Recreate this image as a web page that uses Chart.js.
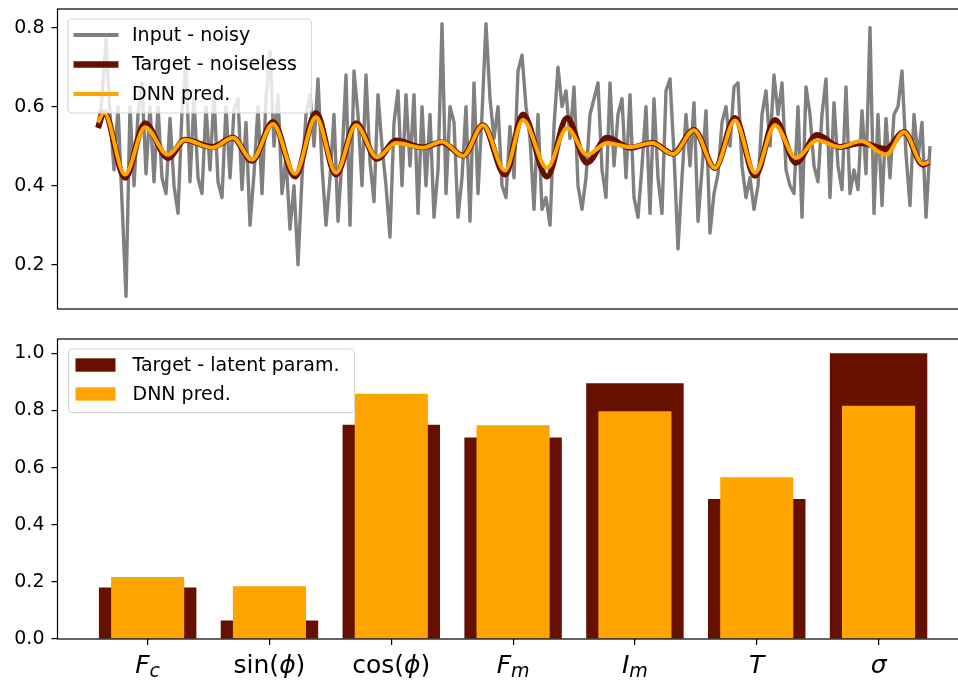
<!DOCTYPE html>
<html lang="en">
<head>
<meta charset="UTF-8">
<title>Noisy signal and latent parameters</title>
<script src="https://cdn.jsdelivr.net/npm/chart.js"></script>
<style>
  html, body {
    margin: 0;
    padding: 0;
    background: #fff;
    width: 958px;
    height: 682px;
    overflow: hidden;
  }
  #top { position: absolute; left: 0; top: 0; }
  #bottom { position: absolute; left: 0; top: 320px; }
</style>
</head>
<body>
<canvas id="top" width="990" height="320"></canvas>
<canvas id="bottom" width="990" height="362"></canvas>

<script>
// noisy input, one value per sample
const noisy = [
  0.55, 0.62, 0.77, 0.58, 0.44, 0.60, 0.36, 0.12, 0.60, 0.40, 0.58, 0.66, 0.43,
  0.60, 0.41, 0.60, 0.42, 0.38, 0.57, 0.40, 0.33, 0.59, 0.71, 0.41, 0.62, 0.42,
  0.38, 0.60, 0.44, 0.63, 0.41, 0.37, 0.60, 0.42, 0.59, 0.62, 0.39, 0.56, 0.30,
  0.43, 0.60, 0.38, 0.62, 0.74, 0.50, 0.63, 0.38, 0.47, 0.29, 0.40, 0.20, 0.42,
  0.58, 0.63, 0.50, 0.67, 0.45, 0.30, 0.42, 0.58, 0.31, 0.47, 0.68, 0.30, 0.69,
  0.58, 0.40, 0.68, 0.46, 0.36, 0.63, 0.50, 0.40, 0.27, 0.56, 0.64, 0.40, 0.63,
  0.45, 0.63, 0.33, 0.60, 0.40, 0.58, 0.32, 0.44, 0.81, 0.38, 0.60, 0.56, 0.32,
  0.42, 0.60, 0.31, 0.66, 0.38, 0.58, 0.81, 0.62, 0.52, 0.60, 0.40, 0.37, 0.55,
  0.42, 0.69, 0.73, 0.60, 0.52, 0.34, 0.58, 0.34, 0.37, 0.30, 0.55, 0.70, 0.60,
  0.64, 0.52, 0.65, 0.40, 0.34, 0.42, 0.58, 0.62, 0.66, 0.44, 0.37, 0.66, 0.45,
  0.58, 0.62, 0.42, 0.63, 0.37, 0.32, 0.45, 0.60, 0.33, 0.62, 0.42, 0.33, 0.64,
  0.67, 0.48, 0.24, 0.42, 0.58, 0.45, 0.61, 0.31, 0.44, 0.59, 0.28, 0.38, 0.43,
  0.56, 0.60, 0.50, 0.65, 0.66, 0.45, 0.37, 0.42, 0.34, 0.40, 0.58, 0.64, 0.50,
  0.68, 0.58, 0.66, 0.44, 0.40, 0.38, 0.60, 0.32, 0.65, 0.58, 0.45, 0.41, 0.58,
  0.67, 0.37, 0.61, 0.45, 0.39, 0.65, 0.38, 0.44, 0.39, 0.59, 0.43, 0.80, 0.33,
  0.58, 0.35, 0.57, 0.42, 0.58, 0.60, 0.69, 0.48, 0.35, 0.58, 0.47, 0.56, 0.32, 0.50
];

// smooth curves, read at their peaks and troughs (x in sample units)
const curveX = [
  0, 1.5, 6.75, 11.75, 17.5, 21.75, 28.5, 33.75, 38.5, 43.75, 49.25, 54.5, 59.5, 64.5,
  69.75, 74.5, 81.25, 86, 91.25, 96.25, 101.75, 106.25, 112.25, 117.25, 122.25, 127.25,
  133, 138.5, 143.75, 149, 154.25, 159.25, 164.25, 169.25, 174.5, 179.75, 185.5, 190.75,
  197, 201.5, 206.25, 207.75
];
const targetY = [
  0.546, 0.586, 0.420, 0.558, 0.470, 0.516, 0.498, 0.521, 0.463, 0.561, 0.423, 0.584, 0.428, 0.558,
  0.468, 0.514, 0.497, 0.510, 0.476, 0.553, 0.428, 0.580, 0.423, 0.571, 0.458, 0.521,
  0.496, 0.508, 0.481, 0.541, 0.445, 0.571, 0.425, 0.566, 0.458, 0.528, 0.498, 0.508,
  0.493, 0.536, 0.453, 0.460
];
const predY = [
  0.560, 0.585, 0.428, 0.548, 0.478, 0.516, 0.496, 0.521, 0.466, 0.556, 0.430, 0.574, 0.433, 0.553,
  0.472, 0.508, 0.496, 0.512, 0.475, 0.553, 0.438, 0.566, 0.445, 0.546, 0.478, 0.508,
  0.498, 0.508, 0.480, 0.540, 0.445, 0.565, 0.433, 0.553, 0.470, 0.515, 0.498, 0.513,
  0.478, 0.536, 0.455, 0.460
];

// latent parameters
const categories = ['F_c', 'sin(ϕ)', 'cos(ϕ)', 'F_m', 'I_m', 'T', 'σ'];
const targetParams = [0.18, 0.065, 0.75, 0.705, 0.895, 0.49, 1.0];
const predParams = [0.217, 0.185, 0.858, 0.748, 0.797, 0.566, 0.816];

const topTicks = [0.2, 0.4, 0.6, 0.8];
const bottomTicks = [0.0, 0.2, 0.4, 0.6, 0.8, 1.0];

const GRAY = '#808080';
const DARK = '#661100';
const ORANGE = '#ffa500';
const FONT = 'DejaVu Sans';

// black box round the axes, like matplotlib spines
const framePlugin = {
  id: 'frame',
  afterDatasetsDraw(chart) {
    const { ctx, chartArea: a } = chart;
    ctx.save();
    ctx.strokeStyle = '#000';
    ctx.lineWidth = 1.2;
    ctx.strokeRect(a.left, a.top, a.right - a.left, a.bottom - a.top);
    ctx.restore();
  }
};

// matplotlib style legend box in the upper left corner
const boxLegend = {
  id: 'boxLegend',
  afterDraw(chart, args, opts) {
    const { ctx, chartArea: a } = chart;
    const x = a.left + opts.dx, y = a.top + opts.dy;
    ctx.save();
    ctx.beginPath();
    ctx.roundRect(x, y, opts.w, opts.h, 4);
    ctx.fillStyle = 'rgba(255,255,255,0.8)';
    ctx.fill();
    ctx.strokeStyle = '#d6d6d6';
    ctx.lineWidth = 1.2;
    ctx.stroke();

    ctx.font = `19px ${FONT}`;
    ctx.textBaseline = 'middle';
    opts.items.forEach((it, i) => {
      const cy = y + opts.row0 + i * opts.rowStep;
      if (it.kind === 'line') {
        ctx.strokeStyle = it.color;
        ctx.lineWidth = it.width;
        ctx.beginPath();
        ctx.moveTo(x + 5.5, cy);
        ctx.lineTo(x + 50.5, cy);
        ctx.stroke();
      } else {
        ctx.fillStyle = it.color;
        ctx.fillRect(x + 7, cy - 6.7, 40, 13.4);
      }
      ctx.fillStyle = '#000';
      ctx.fillText(it.text, x + 64, cy + 1);
    });
    ctx.restore();
  }
};

// split a label like F_c or sin(ϕ) into upright / italic / subscript runs
function parseLabel(s) {
  const runs = [];
  let i = 0;
  while (i < s.length) {
    const fn = s.slice(i).match(/^(sin|cos)/);
    if (fn) { runs.push({ t: fn[1], it: false }); i += fn[1].length; continue; }
    const ch = s[i];
    if (ch === '_') { runs.push({ t: s[i + 1], it: true, sub: true }); i += 2; continue; }
    runs.push({ t: ch, it: /[A-Za-zϕσ]/.test(ch) });
    i++;
  }
  return runs;
}

const mathLabels = {
  id: 'mathLabels',
  afterDraw(chart) {
    const { ctx, chartArea: a } = chart;
    const xs = chart.scales.x;
    const base = a.bottom + 34;
    ctx.save();
    ctx.fillStyle = '#000';
    ctx.textBaseline = 'alphabetic';
    categories.forEach((lab, i) => {
      const runs = parseLabel(lab);
      runs.forEach(r => {
        r.font = `${r.it ? 'italic ' : ''}${r.sub ? 19 : 25}px ${FONT}`;
        ctx.font = r.font;
        r.w = ctx.measureText(r.t).width;
      });
      const total = runs.reduce((s, r) => s + r.w, 0);
      let x = xs.getPixelForValue(i) - total / 2;
      runs.forEach(r => {
        ctx.font = r.font;
        ctx.fillText(r.t, x, base + (r.sub ? 4 : 0));
        x += r.w;
      });
    });
    ctx.restore();
  }
};

function yAxis(min, max, ticks) {
  return {
    min: min,
    max: max,
    afterFit: s => { s.width = 57.5; s.paddingTop = 0; s.paddingBottom = 0; },
    afterBuildTicks: s => { s.ticks = ticks.map(v => ({ value: v })); },
    ticks: {
      callback: v => v.toFixed(1),
      font: { family: FONT, size: 19 },
      color: '#000',
      padding: 7
    },
    grid: { drawOnChartArea: false, tickLength: 6, color: '#000', lineWidth: 1.2 },
    border: { display: false }
  };
}

// ---- top: signal ----
new Chart(document.getElementById('top'), {
  type: 'line',
  data: {
    datasets: [
      {
        label: 'Input - noisy',
        data: noisy.map((v, i) => ({ x: i, y: v })),
        borderColor: GRAY, borderWidth: 3.4, pointRadius: 0, tension: 0,
        borderJoinStyle: 'round', order: 3
      },
      {
        label: 'Target - noiseless',
        data: curveX.map((x, i) => ({ x: x, y: targetY[i] })),
        borderColor: DARK, borderWidth: 6, pointRadius: 0,
        cubicInterpolationMode: 'monotone', borderJoinStyle: 'round', order: 2
      },
      {
        label: 'DNN pred.',
        data: curveX.map((x, i) => ({ x: x, y: predY[i] })),
        borderColor: ORANGE, borderWidth: 4, pointRadius: 0,
        cubicInterpolationMode: 'monotone', borderJoinStyle: 'round', order: 1
      }
    ]
  },
  options: {
    responsive: false,
    animation: false,
    events: [],
    layout: { padding: { left: 0, right: 19.5, top: 9, bottom: 11 } },
    plugins: {
      legend: { display: false },
      tooltip: { enabled: false },
      boxLegend: {
        dx: 10.5, dy: 10, w: 243.5, h: 94, row0: 16, rowStep: 29.5,
        items: [
          { kind: 'line', color: GRAY, width: 4, text: 'Input - noisy' },
          { kind: 'line', color: DARK, width: 6.5, text: 'Target - noiseless' },
          { kind: 'line', color: ORANGE, width: 4, text: 'DNN pred.' }
        ]
      }
    },
    scales: {
      x: { type: 'linear', display: false, min: -10.125, max: 218.125 },
      y: yAxis(0.088, 0.847, topTicks)
    }
  },
  plugins: [framePlugin, boxLegend]
});

// ---- bottom: latent parameters ----
new Chart(document.getElementById('bottom'), {
  type: 'bar',
  data: {
    datasets: [
      {
        label: 'Target - latent param.',
        data: categories.map((c, i) => ({ x: i, y: targetParams[i] })),
        backgroundColor: DARK, barPercentage: 0.8, categoryPercentage: 1,
        grouped: false, order: 2
      },
      {
        label: 'DNN pred.',
        data: categories.map((c, i) => ({ x: i, y: predParams[i] })),
        backgroundColor: ORANGE, barPercentage: 0.6, categoryPercentage: 1,
        grouped: false, order: 1
      }
    ]
  },
  options: {
    responsive: false,
    animation: false,
    events: [],
    layout: { padding: { left: 0, right: 21.3, top: 19, bottom: 0 } },
    plugins: {
      legend: { display: false },
      tooltip: { enabled: false },
      boxLegend: {
        dx: 11, dy: 10, w: 286, h: 63.7, row0: 16, rowStep: 29,
        items: [
          { kind: 'patch', color: DARK, text: 'Target - latent param.' },
          { kind: 'patch', color: ORANGE, text: 'DNN pred.' }
        ]
      }
    },
    scales: {
      x: {
        type: 'linear',
        offset: false,
        min: -0.74,
        max: 6.74,
        afterFit: s => { s.height = 43; s.paddingLeft = 0; s.paddingRight = 0; },
        afterBuildTicks: s => { s.ticks = categories.map((c, i) => ({ value: i })); },
        ticks: { autoSkip: false, callback: () => '', font: { size: 1 } },
        grid: { offset: false, drawOnChartArea: false, tickLength: 6, color: '#000', lineWidth: 1.2 },
        border: { display: false }
      },
      y: yAxis(0, 1.05, bottomTicks)
    }
  },
  plugins: [framePlugin, boxLegend, mathLabels]
});
</script>
</body>
</html>
